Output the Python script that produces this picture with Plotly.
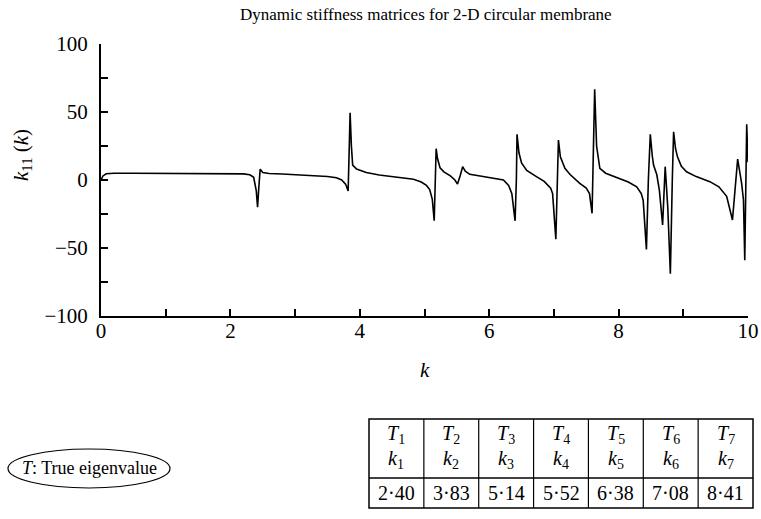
import plotly.graph_objects as go

# ---- data ----
k_vals = [0.0, 0.03, 0.08, 0.2, 0.5, 1.0, 1.5, 2.0, 2.2, 2.3, 2.36, 2.40, 2.42, 2.44, 2.46, 2.5,
          2.6, 2.8, 3.0, 3.3, 3.5, 3.64, 3.72, 3.78, 3.82, 3.84, 3.85, 3.87, 3.89, 3.95, 4.0,
          4.1, 4.3, 4.5, 4.7, 4.83, 4.95, 5.03, 5.08, 5.12, 5.15, 5.17, 5.18, 5.20, 5.24,
          5.30, 5.40, 5.47, 5.51, 5.55, 5.59, 5.63, 5.70, 5.86, 6.0, 6.1, 6.22, 6.30, 6.35,
          6.40, 6.42, 6.43, 6.46, 6.50, 6.58, 6.73, 6.85, 6.95, 6.98, 7.03, 7.05, 7.07, 7.10,
          7.17, 7.25, 7.40, 7.50, 7.55, 7.59, 7.61, 7.63, 7.66, 7.71, 7.80, 8.02, 8.15, 8.28,
          8.35, 8.38, 8.43, 8.46, 8.49, 8.52, 8.54, 8.59, 8.63, 8.68, 8.72, 8.76, 8.80, 8.83,
          8.85, 8.88, 8.91, 8.97, 9.05, 9.2, 9.41, 9.55, 9.67, 9.76, 9.84, 9.90, 9.93, 9.95,
          9.98, 10.0]
k11_vals = [0, 3, 4.6, 5, 5, 5, 5, 4.9, 4.5, 3.8, 2, -8, -20, -5, 8, 5.5,
            4.8, 4.4, 4, 3.4, 2.6, 1.6, 0, -3, -8, 30, 49.5, 25, 11, 8, 7.2,
            5.5, 3.7, 2.6, 1.5, 0.5, -1.5, -4, -7, -14, -30, 0, 23, 16, 9,
            6, 3, 0, -3, 3, 9.8, 6.5, 4.2, 3, 2, 1, 0, -4, -10,
            -30, 0, 33.6, 20, 12.5, 7, 2.5, -1, -6, -10, -43.6, 0, 29.4, 17,
            8.6, 4, -2.5, -6, -10, -24.5, 20, 66.7, 25, 8.5, 5, 1, -1.5, -5,
            -10, -15, -51, 0, 33.6, 18, 11, 4, -7.4, -33, 9.8, -20, -69, 0,
            35.5, 23, 17, 10, 6, 2.5, -1.2, -5, -12, -29.4, 15.4, -2, -14.7, -59,
            41, 13]

x_tick_vals = [0, 2, 4, 6, 8, 10]
y_tick_vals = [-100, -50, 0, 50, 100]

table_T = ["<i>T</i><sub>%d</sub>" % i for i in range(1, 8)]
table_k = ["<i>k</i><sub>%d</sub>" % i for i in range(1, 8)]
table_values = ["2·40", "3·83", "5·14", "5·52", "6·38", "7·08", "8·41"]

title_text = "Dynamic stiffness matrices for 2-D circular membrane"
legend_text = "<i>T</i>: True eigenvalue"

# ---- layout geometry (pixels in the reference image) ----
W, H = 761, 519
PL, PR, PT, PB = 101, 748, 44, 316
FONT = "Liberation Serif"


def px(x):
    return (x - PL) / (PR - PL)


def py(y):
    return (PB - y) / (PB - PT)


fig = go.Figure()
fig.add_trace(go.Scatter(x=k_vals, y=k11_vals, mode="lines",
                         line=dict(color="black", width=1.6), showlegend=False,
                         hoverinfo="skip"))

shapes = []
annotations = []


def txt(text, x, y, size, angle=0):
    annotations.append(dict(text=text, x=px(x), y=py(y), xref="paper", yref="paper",
                            showarrow=False, textangle=angle,
                            font=dict(family=FONT, size=size, color="black"),
                            xanchor="center", yanchor="middle"))


txt(title_text, 426, 15, 17)
txt("<i>k</i><sub>11</sub> (<i>k</i>)", 22, 155, 21, -90)
txt("<i>k</i>", 425, 370, 21)

# legend ellipse
shapes.append(dict(type="circle", xref="paper", yref="paper",
                   x0=px(8), x1=px(170), y0=py(449), y1=py(488),
                   line=dict(color="black", width=1.2)))
txt(legend_text, 89, 468, 18)

# table
TL, TR, TT, TM, TB = 369, 753, 419, 478, 508
ncol = len(table_values)
cw = (TR - TL) / ncol
shapes.append(dict(type="rect", xref="paper", yref="paper",
                   x0=px(TL), x1=px(TR), y0=py(TT), y1=py(TB),
                   line=dict(color="black", width=1.5)))
shapes.append(dict(type="line", xref="paper", yref="paper",
                   x0=px(TL), x1=px(TR), y0=py(TM), y1=py(TM),
                   line=dict(color="black", width=1.5)))
for i in range(1, ncol):
    xx = TL + i * cw
    shapes.append(dict(type="line", xref="paper", yref="paper",
                       x0=px(xx), x1=px(xx), y0=py(TT), y1=py(TB),
                       line=dict(color="black", width=1.2)))
for i in range(ncol):
    cx = TL + (i + 0.5) * cw
    txt(table_T[i], cx, 434, 20)
    txt(table_k[i], cx, 459, 20)
    txt(table_values[i], cx, 493, 20)

axis_common = dict(ticks="inside", ticklen=7, tickwidth=1.5, tickcolor="black",
                   showline=True, linewidth=2, linecolor="black", automargin=False,
                   showgrid=False, zeroline=False, tickfont=dict(family=FONT, size=21))

fig.update_layout(
    width=W, height=H, autosize=False,
    margin=dict(l=PL, r=W - PR, t=PT, b=H - PB, pad=0, autoexpand=False),
    plot_bgcolor="white", paper_bgcolor="white",
    font=dict(family=FONT, size=21, color="black"),
    shapes=shapes, annotations=annotations,
    xaxis=dict(range=[0, 10], tickvals=x_tick_vals, ticklabelstandoff=-5,
               minor=dict(dtick=1, tick0=0, ticks="inside", ticklen=7, tickwidth=1.5,
                          tickcolor="black", showgrid=False),
               **axis_common),
    yaxis=dict(range=[-100, 100], tickvals=y_tick_vals, ticklabelstandoff=7,
               minor=dict(dtick=25, tick0=0, ticks="inside", ticklen=7, tickwidth=1.5,
                          tickcolor="black", showgrid=False),
               **axis_common),
)

fig.write_html("out.html", config={"displayModeBar": False},
               post_script="document.body.style.margin='0';"
               "document.body.style.overflow='hidden';")
